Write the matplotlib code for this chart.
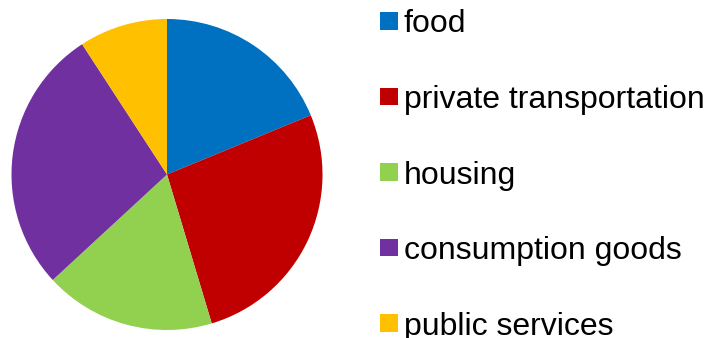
import matplotlib.pyplot as plt
from matplotlib.patches import Rectangle

categories = ["food", "private transportation", "housing", "consumption goods", "public services"]
shares = [18.8, 26.6, 17.8, 27.7, 9.2]
colors = ["#0070C0", "#C00000", "#92D050", "#7030A0", "#FFC000"]

plt.rcParams["font.family"] = ["Liberation Sans", "DejaVu Sans"]

W, H = 708, 338
fig = plt.figure(figsize=(W / 100, H / 100), dpi=100)

# pie occupies a square box on the left
cx, cy, r = 167, 174.5, 155.5
ax = fig.add_axes([(cx - r) / W, (H - cy - r) / H, 2 * r / W, 2 * r / H])
ax.pie(shares, colors=colors, startangle=90, counterclock=False,
       radius=1, wedgeprops=dict(linewidth=0))
ax.set_xlim(-1, 1)
ax.set_ylim(-1, 1)
ax.set_aspect("equal")
ax.axis("off")

# legend drawn by hand: square marker + label per row
base0, step = 32.5, 75.6
for i, (lab, col) in enumerate(zip(categories, colors)):
    base = base0 + i * step
    sq_top = base - 20.5
    fig.add_artist(Rectangle((380 / W, (H - sq_top - 17.5) / H), 17.5 / W, 17.5 / H,
                             transform=fig.transFigure, facecolor=col, edgecolor="none"))
    fig.text(404 / W, (H - base) / H, lab, fontsize=23, color="black",
             ha="left", va="baseline")

fig.savefig("out.png", dpi=100)
